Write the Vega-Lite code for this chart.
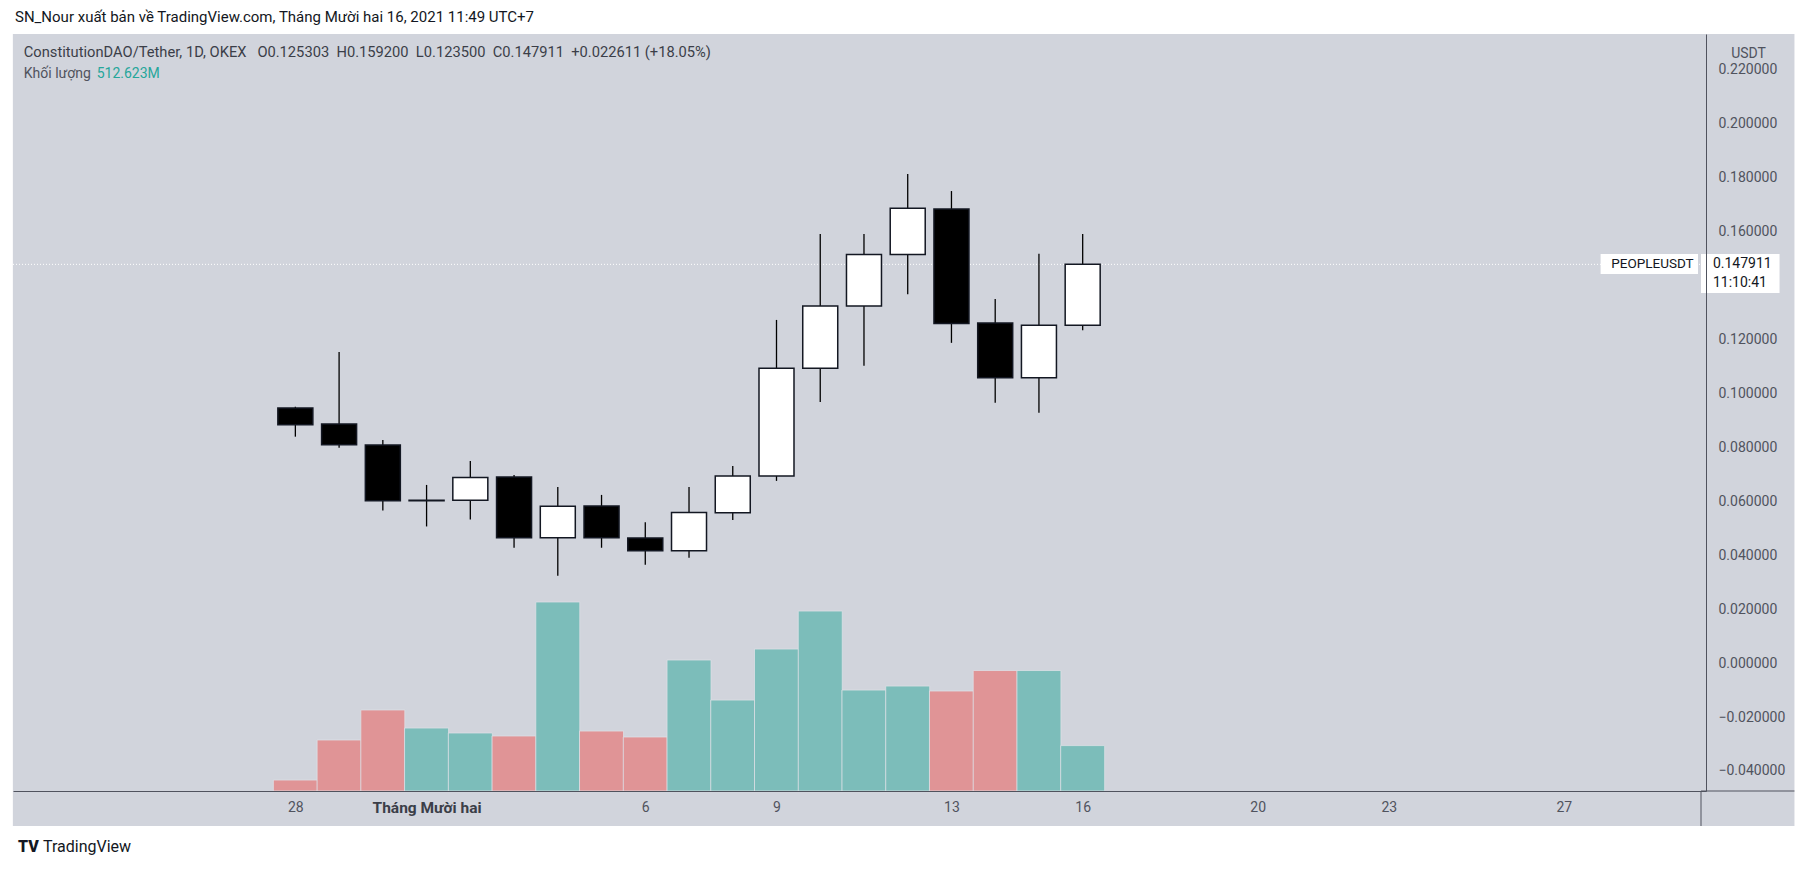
{
  "$schema": "https://vega.github.io/schema/vega-lite/v6.json",
  "width": 1693,
  "height": 757,
  "autosize": {"type": "none"},
  "padding": {"left": 13, "top": 34, "right": 107, "bottom": 79},
  "background": "#ffffff",
  "config": {"view": {"stroke": null}, "font": "Roboto"},
  "datasets": {
    "candles": [
      {"date": "2021-11-28", "open": 0.0946, "high": 0.0951, "low": 0.0840, "close": 0.0884, "volume": 124},
      {"date": "2021-11-29", "open": 0.0887, "high": 0.1154, "low": 0.0799, "close": 0.0810, "volume": 576},
      {"date": "2021-11-30", "open": 0.0809, "high": 0.0828, "low": 0.0566, "close": 0.0602, "volume": 915},
      {"date": "2021-12-01", "open": 0.0602, "high": 0.0661, "low": 0.0507, "close": 0.0604, "volume": 711},
      {"date": "2021-12-02", "open": 0.0604, "high": 0.0750, "low": 0.0533, "close": 0.0689, "volume": 655},
      {"date": "2021-12-03", "open": 0.0690, "high": 0.0698, "low": 0.0428, "close": 0.0465, "volume": 621},
      {"date": "2021-12-04", "open": 0.0465, "high": 0.0653, "low": 0.0324, "close": 0.0582, "volume": 2134},
      {"date": "2021-12-05", "open": 0.0583, "high": 0.0624, "low": 0.0428, "close": 0.0465, "volume": 677},
      {"date": "2021-12-06", "open": 0.0464, "high": 0.0523, "low": 0.0365, "close": 0.0417, "volume": 610},
      {"date": "2021-12-07", "open": 0.0417, "high": 0.0653, "low": 0.0391, "close": 0.0559, "volume": 1479},
      {"date": "2021-12-08", "open": 0.0558, "high": 0.0731, "low": 0.0531, "close": 0.0694, "volume": 1027},
      {"date": "2021-12-09", "open": 0.0694, "high": 0.1273, "low": 0.0676, "close": 0.1094, "volume": 1603},
      {"date": "2021-12-10", "open": 0.1094, "high": 0.1592, "low": 0.0969, "close": 0.1325, "volume": 2032},
      {"date": "2021-12-11", "open": 0.1325, "high": 0.1592, "low": 0.1103, "close": 0.1516, "volume": 1140},
      {"date": "2021-12-12", "open": 0.1516, "high": 0.1814, "low": 0.1368, "close": 0.1687, "volume": 1185},
      {"date": "2021-12-13", "open": 0.1684, "high": 0.1751, "low": 0.1188, "close": 0.1260, "volume": 1129},
      {"date": "2021-12-14", "open": 0.1262, "high": 0.1351, "low": 0.0966, "close": 0.1059, "volume": 1360},
      {"date": "2021-12-15", "open": 0.1059, "high": 0.1518, "low": 0.0929, "close": 0.1253, "volume": 1360},
      {"date": "2021-12-16", "open": 0.125303, "high": 0.1592, "low": 0.1235, "close": 0.147911, "volume": 512.623}
    ]
  },
  "layer": [
    {
      "data": {"values": [{}]},
      "mark": {"type": "rect", "fill": "#d1d4dc"},
      "encoding": {
        "x": {"datum": {"year": 2021, "month": 11, "date": 21, "hours": 13, "minutes": 0, "utc": true}, "type": "temporal",
              "scale": {"type": "utc", "domain": [{"year": 2021, "month": 11, "date": 21, "hours": 15, "minutes": 49, "utc": true}, {"year": 2021, "month": 12, "date": 30, "hours": 3, "minutes": 16, "utc": true}]}},
        "x2": {"datum": {"year": 2022, "month": 1, "date": 1, "hours": 6, "minutes": 33, "utc": true}},
        "y": {"datum": 0.23335, "type": "quantitative", "scale": {"domain": [-0.04742, 0.23335], "nice": false, "zero": false}, "axis": null},
        "y2": {"datum": -0.0604}
      }
    },
    {
      "data": {"name": "candles"},
      "mark": {"type": "bar", "width": 44, "stroke": "#dde0e6", "strokeWidth": 0.8},
      "encoding": {
        "x": {"field": "date", "type": "temporal"},
        "y": {"field": "volume", "type": "quantitative", "scale": {"domain": [0, 8547], "nice": false}, "axis": null},
        "fill": {"condition": {"test": "datum.close >= datum.open", "value": "#7cbdba"}, "value": "#e09496"}
      }
    },
    {
      "layer": [
        {
          "data": {"values": [{}]},
          "mark": {"type": "rule", "stroke": "#ffffff", "strokeDash": [1, 2], "strokeWidth": 1},
          "encoding": {
            "y": {"datum": 0.147911, "type": "quantitative", "scale": {"domain": [-0.04742, 0.23335], "nice": false, "zero": false},
                  "axis": {"orient": "right", "values": [-0.04, -0.02, 0, 0.02, 0.04, 0.06, 0.08, 0.1, 0.12, 0.14, 0.16, 0.18, 0.2, 0.22],
                           "format": ".6f", "grid": false, "ticks": false, "labelPadding": 12, "labelAlign": "left", "labelBaseline": "middle",
                           "labelFontSize": 14, "labelColor": "#50535e", "domainColor": "#50535e", "domainWidth": 1,
                           "title": "USDT", "titleAngle": 0, "titleX": 42, "titleY": 19, "titleAlign": "center", "titleBaseline": "middle",
                           "titleFontWeight": "normal", "titleFontSize": 14, "titleColor": "#50535e", "zindex": 1,
                           "labelExpr": "datum.value == 0.14 ? '' : datum.label"}}
          }
        },
        {
          "data": {"values": [{}]},
          "mark": {"type": "rule", "stroke": "#50535e", "strokeWidth": 1},
          "encoding": {
            "x": {"datum": {"year": 2021, "month": 12, "date": 30, "hours": 3, "minutes": 16, "utc": true}, "type": "temporal"},
            "x2": {"datum": {"year": 2022, "month": 1, "date": 1, "hours": 6, "minutes": 33, "utc": true}},
            "y": {"datum": -0.04742, "type": "quantitative"}
          }
        },
        {
          "data": {"values": [{}]},
          "mark": {"type": "rule", "stroke": "#50535e", "strokeWidth": 1},
          "encoding": {
            "x": {"datum": {"year": 2021, "month": 12, "date": 30, "hours": 3, "minutes": 16, "utc": true}, "type": "temporal"},
            "y": {"datum": -0.04742, "type": "quantitative"},
            "y2": {"datum": -0.0604}
          }
        },
        {
          "data": {"name": "candles"},
          "mark": {"type": "rule", "stroke": "#000000", "strokeWidth": 1.3},
          "encoding": {
            "x": {"field": "date", "type": "temporal",
                  "axis": {"orient": "bottom", "title": null, "grid": false, "ticks": false, "labelPadding": 9,
                           "values": [{"year": 2021, "month": 11, "date": 28, "utc": true}, {"year": 2021, "month": 12, "date": 1, "utc": true},
                                      {"year": 2021, "month": 12, "date": 6, "utc": true}, {"year": 2021, "month": 12, "date": 9, "utc": true},
                                      {"year": 2021, "month": 12, "date": 13, "utc": true}, {"year": 2021, "month": 12, "date": 16, "utc": true},
                                      {"year": 2021, "month": 12, "date": 20, "utc": true}, {"year": 2021, "month": 12, "date": 23, "utc": true},
                                      {"year": 2021, "month": 12, "date": 27, "utc": true}],
                           "labelExpr": "utcdate(datum.value) == 1 ? 'Tháng Mười hai' : '' + utcdate(datum.value)",
                           "labelFontSize": {"condition": {"test": "utcdate(datum.value) == 1", "value": 15.5}, "value": 14},
                           "labelColor": {"condition": {"test": "utcdate(datum.value) == 1", "value": "#3b3e48"}, "value": "#50535e"},
                           "labelFontWeight": {"condition": {"test": "utcdate(datum.value) == 1", "value": "bold"}, "value": "normal"},
                           "domainColor": "#50535e", "domainWidth": 1, "zindex": 1}},
            "y": {"field": "low", "type": "quantitative"},
            "y2": {"field": "high"}
          }
        },
        {
          "data": {"name": "candles"},
          "mark": {"type": "bar", "width": 35, "stroke": "#131722", "strokeWidth": 1.5},
          "encoding": {
            "x": {"field": "date", "type": "temporal"},
            "y": {"field": "open", "type": "quantitative"},
            "y2": {"field": "close"},
            "fill": {"condition": {"test": "datum.close >= datum.open", "value": "#ffffff"}, "value": "#000000"}
          }
        },
        {
          "data": {"values": [{}]},
          "mark": {"type": "rect", "fill": "#ffffff"},
          "encoding": {
            "x": {"datum": {"year": 2021, "month": 12, "date": 27, "hours": 20, "minutes": 11, "utc": true}, "type": "temporal"},
            "x2": {"datum": {"year": 2021, "month": 12, "date": 30, "hours": 1, "minutes": 38, "utc": true}},
            "y": {"datum": 0.15175, "type": "quantitative"},
            "y2": {"datum": 0.14433}
          }
        },
        {
          "data": {"values": [{}]},
          "mark": {"type": "rect", "fill": "#ffffff"},
          "encoding": {
            "x": {"datum": {"year": 2021, "month": 12, "date": 30, "hours": 3, "minutes": 16, "utc": true}, "type": "temporal"},
            "x2": {"datum": {"year": 2021, "month": 12, "date": 31, "hours": 22, "minutes": 22, "utc": true}},
            "y": {"datum": 0.15175, "type": "quantitative"},
            "y2": {"datum": 0.13729}
          }
        },
        {
          "data": {"values": [{}]},
          "mark": {"type": "text", "text": "PEOPLEUSDT", "align": "left", "baseline": "middle", "fontSize": 13.5, "color": "#131722"},
          "encoding": {
            "x": {"datum": {"year": 2021, "month": 12, "date": 28, "hours": 2, "minutes": 0, "utc": true}, "type": "temporal"},
            "y": {"datum": 0.147911, "type": "quantitative"}
          }
        },
        {
          "data": {"values": [{}]},
          "mark": {"type": "text", "text": "0.147911", "align": "left", "baseline": "middle", "fontSize": 14, "color": "#131722"},
          "encoding": {
            "x": {"datum": {"year": 2021, "month": 12, "date": 30, "hours": 9, "minutes": 49, "utc": true}, "type": "temporal"},
            "y": {"datum": 0.14804, "type": "quantitative"}
          }
        },
        {
          "data": {"values": [{}]},
          "mark": {"type": "text", "text": "11:10:41", "align": "left", "baseline": "middle", "fontSize": 14, "color": "#131722"},
          "encoding": {
            "x": {"datum": {"year": 2021, "month": 12, "date": 30, "hours": 9, "minutes": 49, "utc": true}, "type": "temporal"},
            "y": {"datum": 0.1410, "type": "quantitative"}
          }
        },
        {
          "data": {"values": [{}]},
          "mark": {"type": "text", "text": "SN_Nour xuất bản về TradingView.com, Tháng Mười hai 16, 2021 11:49 UTC+7", "align": "left", "baseline": "middle", "fontSize": 15, "color": "#131722"},
          "encoding": {
            "x": {"datum": {"year": 2021, "month": 11, "date": 21, "hours": 14, "minutes": 10, "utc": true}, "type": "temporal"},
            "y": {"datum": 0.23966, "type": "quantitative"}
          }
        },
        {
          "data": {"values": [{}]},
          "mark": {"type": "text", "text": "ConstitutionDAO/Tether, 1D, OKEX\u00a0\u00a0\u00a0O0.125303\u00a0\u00a0H0.159200\u00a0\u00a0L0.123500\u00a0\u00a0C0.147911\u00a0\u00a0+0.022611 (+18.05%)", "align": "left", "baseline": "middle", "fontSize": 14.7, "color": "#3b3e48"},
          "encoding": {
            "x": {"datum": {"year": 2021, "month": 11, "date": 21, "hours": 19, "minutes": 0, "utc": true}, "type": "temporal"},
            "y": {"datum": 0.2263, "type": "quantitative"}
          }
        },
        {
          "data": {"values": [{}]},
          "mark": {"type": "text", "text": "Khối lượng", "align": "left", "baseline": "middle", "fontSize": 14, "color": "#50535e"},
          "encoding": {
            "x": {"datum": {"year": 2021, "month": 11, "date": 21, "hours": 19, "minutes": 0, "utc": true}, "type": "temporal"},
            "y": {"datum": 0.2185, "type": "quantitative"}
          }
        },
        {
          "data": {"values": [{}]},
          "mark": {"type": "text", "text": "512.623M", "align": "left", "baseline": "middle", "fontSize": 14, "color": "#26a69a"},
          "encoding": {
            "x": {"datum": {"year": 2021, "month": 11, "date": 23, "hours": 11, "minutes": 0, "utc": true}, "type": "temporal"},
            "y": {"datum": 0.2185, "type": "quantitative"}
          }
        },
        {
          "data": {"values": [{}]},
          "mark": {"type": "text", "text": "TV", "align": "left", "baseline": "middle", "fontSize": 16, "fontWeight": 900, "color": "#131722"},
          "encoding": {
            "x": {"datum": {"year": 2021, "month": 11, "date": 21, "hours": 15, "minutes": 49, "utc": true}, "type": "temporal"},
            "y": {"datum": -0.06819, "type": "quantitative"}
          }
        },
        {
          "data": {"values": [{}]},
          "mark": {"type": "text", "text": "TradingView", "align": "left", "baseline": "middle", "fontSize": 16, "color": "#131722"},
          "encoding": {
            "x": {"datum": {"year": 2021, "month": 11, "date": 22, "hours": 5, "minutes": 30, "utc": true}, "type": "temporal"},
            "y": {"datum": -0.06819, "type": "quantitative"}
          }
        }
      ]
    }
  ],
  "resolve": {"scale": {"y": "independent"}}
}
